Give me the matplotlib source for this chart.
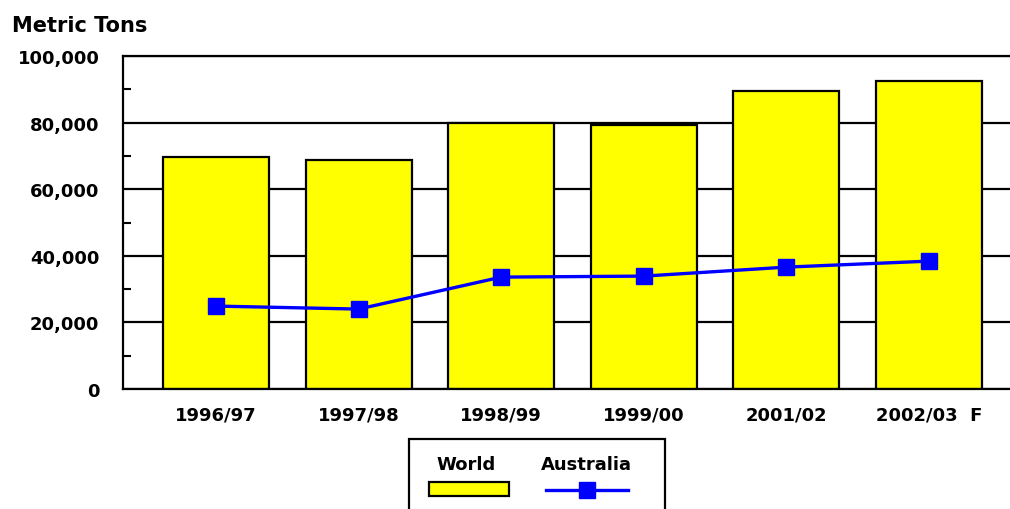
import matplotlib
matplotlib.use("Agg")
import matplotlib.pyplot as plt
from matplotlib.patches import Rectangle
from matplotlib.lines import Line2D
from matplotlib.ticker import MultipleLocator, FuncFormatter

categories = ["1996/97", "1997/98", "1998/99", "1999/00", "2001/02", "2002/03  F"]
world = [69700, 68800, 79900, 79300, 89500, 92500]
australia = [24900, 24000, 33600, 33900, 36600, 38400]

FONT = "DejaVu Sans"
W, H = 1010, 510
fig = plt.figure(figsize=(W / 100, H / 100), dpi=100)
ax = fig.add_axes([123 / W, 1 - 390 / H, (1010 - 123) / W, (390 - 57) / H])

x = list(range(len(categories)))
ax.bar(x, world, width=0.743, color="#FFFF00", edgecolor="black", linewidth=1.6, zorder=2)
ax.plot(x, australia, color="#0000FF", linewidth=2.4, marker="s", markersize=11,
        markerfacecolor="#0000FF", markeredgecolor="#0000FF", zorder=3)

ax.set_xlim(-0.652, 5.568)
ax.set_ylim(0, 100000)
ax.yaxis.set_major_locator(MultipleLocator(20000))
ax.yaxis.set_minor_locator(MultipleLocator(10000))
ax.yaxis.set_major_formatter(FuncFormatter(lambda v, p: f"{int(v):,}"))
ax.set_xticks(x)
ax.set_xticklabels(categories)
ax.grid(axis="y", which="major", color="black", linewidth=1.6, zorder=1)
ax.set_axisbelow(True)

for s in ["left", "bottom", "top"]:
    ax.spines[s].set_linewidth(1.6)
    ax.spines[s].set_color("black")
ax.spines["right"].set_visible(False)

ax.tick_params(axis="y", which="major", length=0, pad=17)
ax.tick_params(axis="y", which="minor", direction="in", length=6, width=1.5)
ax.tick_params(axis="x", which="major", direction="in", length=6, width=1.5, pad=12)
for lab in ax.get_yticklabels() + ax.get_xticklabels():
    lab.set_fontfamily(FONT)
    lab.set_fontweight("bold")
    lab.set_fontsize(13)

fig.text(12 / W, 1 - 26 / H, "Metric Tons", fontfamily=FONT, fontweight="bold",
         fontsize=15, ha="left", va="center")

# Legend (manual, figure pixel coords)
def fx(px):
    return px / W

def fy(py):
    return 1 - py / H

fig.add_artist(Rectangle((fx(409), fy(515)), fx(665) - fx(409), fy(440) - fy(515),
                         transform=fig.transFigure, facecolor="white", edgecolor="black",
                         linewidth=1.6, clip_on=False))
fig.text(fx(466), fy(465), "World", fontfamily=FONT, fontweight="bold", fontsize=13,
         ha="center", va="center")
fig.text(fx(586), fy(465), "Australia", fontfamily=FONT, fontweight="bold", fontsize=13,
         ha="center", va="center")
fig.add_artist(Rectangle((fx(429), fy(497)), fx(509) - fx(429), fy(483) - fy(497),
                         transform=fig.transFigure, facecolor="#FFFF00", edgecolor="black",
                         linewidth=1.6))
fig.add_artist(Line2D([fx(546), fx(628)], [fy(491), fy(491)], transform=fig.transFigure,
                      color="#0000FF", linewidth=2.4))
fig.add_artist(Line2D([fx(587)], [fy(491)], transform=fig.transFigure, color="#0000FF",
                      marker="s", markersize=11, linestyle="none"))

fig.savefig("out.png", dpi=100)
